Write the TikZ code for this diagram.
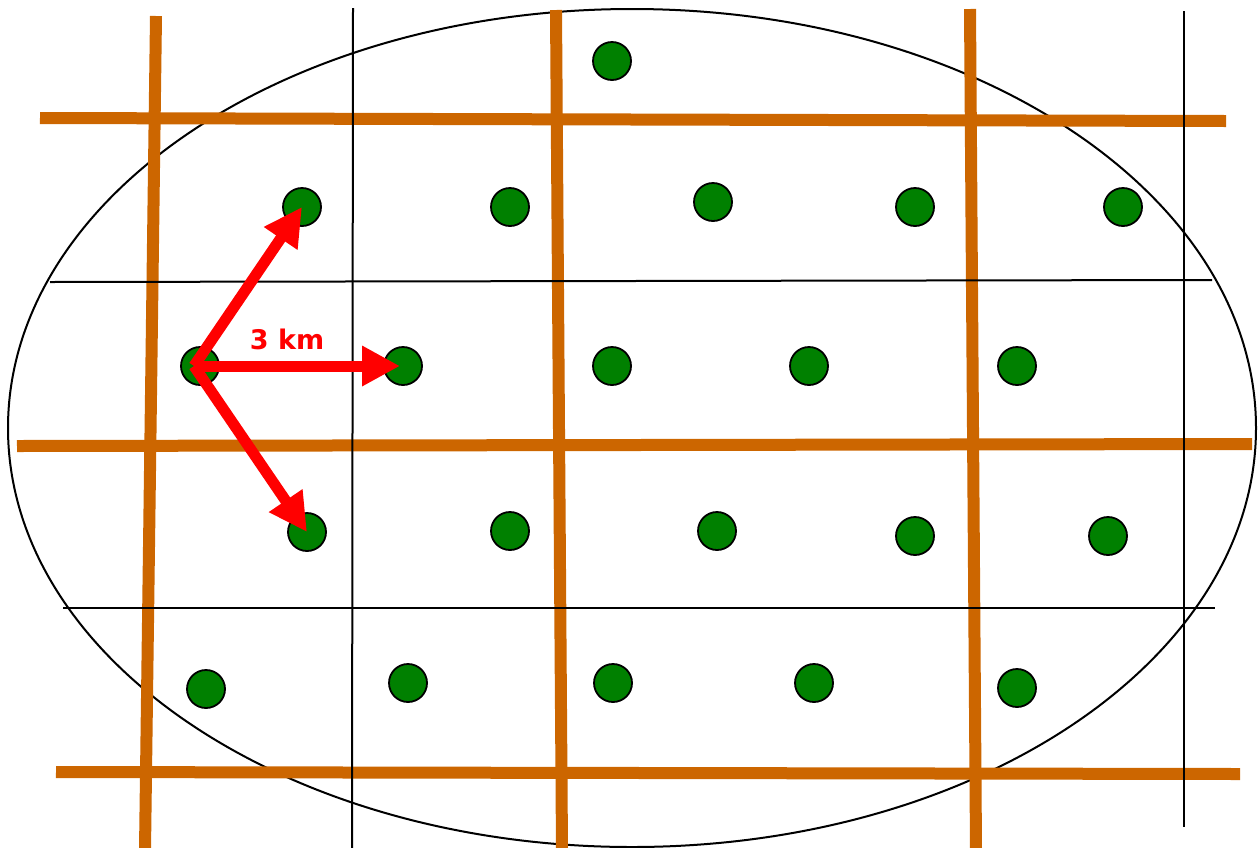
\documentclass[tikz,border=0pt]{standalone}
\usepackage{fontspec}
\setsansfont{DejaVu Sans}
\usetikzlibrary{arrows.meta}
\definecolor{roadorange}{HTML}{CC6600}
\definecolor{sitegreen}{HTML}{008000}

\begin{document}
\begin{tikzpicture}[x=1pt,y=-1pt,line width=1.5pt,
  road/.style={roadorange,line width=12pt},
  grid/.style={black,line width=2pt},
  site/.style={circle,fill=sitegreen,draw=black,line width=1.8pt,minimum size=38pt,inner sep=0pt},
  hop/.style={red,line width=11pt,-{Triangle[length=38pt,width=38pt]}}]
\useasboundingbox (0,0) rectangle (1260,847);
\draw[line width=2pt] (632,428) ellipse [x radius=624,y radius=419];
\draw[road] (156,16) -- (145,850);
\draw[road] (556,10) -- (562,850);
\draw[road] (970,9) -- (976,850);
\draw[road] (40,118) -- (1226,121);
\draw[road] (17,446) -- (1252,444);
\draw[road] (56,772) -- (1240,774);
\draw[grid] (353,8) -- (352,850);
\draw[grid] (1184,11) -- (1184,827);
\draw[grid] (50,282) -- (1212,280);
\draw[grid] (63,608) -- (1215,608);
\node[site] (s0) at (612,61) {};
\node[site] (s11) at (302,207) {};
\node[site] (s12) at (510,207) {};
\node[site] (s13) at (713,202) {};
\node[site] (s14) at (915,207) {};
\node[site] (s15) at (1123,207) {};
\node[site] (s21) at (200,366) {};
\node[site] (s22) at (403,366) {};
\node[site] (s23) at (612,366) {};
\node[site] (s24) at (809,366) {};
\node[site] (s25) at (1017,366) {};
\node[site] (s31) at (307,532) {};
\node[site] (s32) at (510,531) {};
\node[site] (s33) at (717,531) {};
\node[site] (s34) at (915,536) {};
\node[site] (s35) at (1108,536) {};
\node[site] (s41) at (206,689) {};
\node[site] (s42) at (408,683) {};
\node[site] (s43) at (613,683) {};
\node[site] (s44) at (814,683) {};
\node[site] (s45) at (1017,688) {};
\coordinate (hub) at (194,366);
\draw[hop] (hub) -- (s11.center);
\draw[hop] (hub) -- ([xshift=-3pt]s22.center);
\draw[hop] (hub) -- (s31.center);
\node[red,font=\sffamily\bfseries\fontsize{27}{31}\selectfont] (dist) at (287,339) {3 km};
\end{tikzpicture}
\end{document}
